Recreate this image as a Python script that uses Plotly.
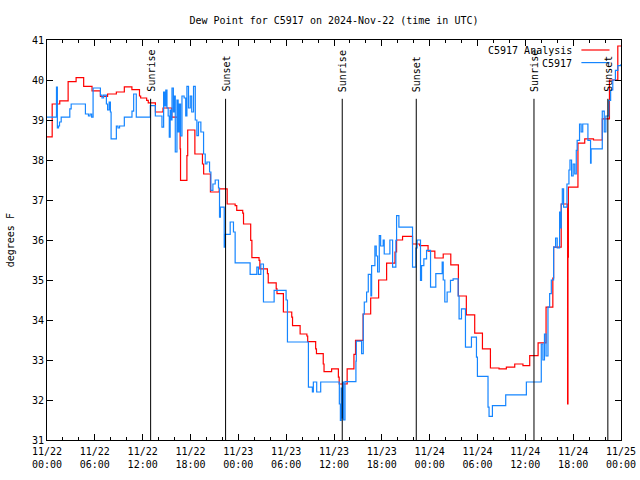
import pandas as pd
import plotly.graph_objects as go

# ---------------- data (hours since 2024-11-22 00:00 UTC, deg F) ----------------
analysis_hours = [0, 0.65, 1.6, 2.65, 3.65, 4.6, 5.65, 6.7, 7.6, 8.7, 9.7, 10.65, 11.6, 11.75,
                  12.5, 12.7, 13.6, 14.55, 15.65, 16.7, 16.75, 17.55, 17.65, 18.55, 19.5, 19.65,
                  20.5, 21.6, 22.6, 23.6, 23.8, 24.55, 24.65, 25.55, 25.7, 26.6, 26.7, 27.65,
                  27.75, 28.75, 28.85, 29.65, 30.7, 30.8, 31.75, 32.6, 32.7, 33.7, 33.8, 34.65,
                  34.75, 35.7, 36.55, 36.65, 37.65, 38.5, 38.7, 39.65, 40.6, 41.6, 42.6, 43.65,
                  43.85, 44.6, 45.85, 46.75, 47.8, 48.65, 49.7, 50.65, 51.6, 52.6, 53.65, 54.62,
                  55.62, 56.7, 57.62, 58.67, 59.7, 60.55, 61.6, 62.6, 63.45, 63.55, 64.5, 65.3,
                  65.35, 65.4, 66.6, 67.45, 68.55, 69.65, 70.55, 71.6, 72.0]
analysis_vals = [38.58, 39.40, 39.48, 39.96, 40.06, 39.84, 39.73, 39.59, 39.65, 39.70, 39.83, 39.76,
                 39.60, 39.55, 39.49, 39.43, 39.20, 39.30, 39.07, 38.28, 37.49, 38.11, 38.75, 38.15,
                 37.90, 37.65, 37.20, 37.28, 36.90, 36.86, 36.74, 36.67, 36.40, 35.99, 35.56, 35.49,
                 35.28, 35.16, 34.93, 34.78, 34.66, 34.20, 34.07, 33.86, 33.65, 33.60, 33.46, 33.28,
                 33.16, 32.90, 32.71, 32.78, 32.57, 32.40, 32.78, 33.14, 33.49, 34.15, 34.55, 35.00,
                 35.42, 35.70, 36.00, 36.09, 35.90, 35.86, 35.72, 35.55, 35.65, 35.38, 34.60, 34.13,
                 33.67, 33.28, 32.80, 32.78, 32.82, 32.90, 32.86, 33.11, 33.43, 34.32, 35.05, 35.82,
                 36.90, 31.90, 35.57, 37.32, 38.42, 38.53, 38.50, 39.03, 40.00, 40.85, 40.85]

obs_hours = [0.0, 1.19, 1.3, 1.45, 1.57, 1.78, 2.86, 3.03, 4.82, 5.2, 5.4, 5.6, 5.78, 6.7, 6.9,
             7.1, 7.45, 7.6, 7.8, 7.95, 8.04, 8.7, 8.9, 9.1, 9.7, 10.66, 10.87, 11.2, 12.96,
             13.59, 14.42, 14.63, 14.75, 14.9, 15.05, 15.2, 15.34, 15.45, 15.6, 15.68, 15.85,
             16.0, 16.09, 16.3, 16.45, 16.6, 16.75, 16.93, 17.2, 17.4, 17.55, 17.75, 17.97,
             18.15, 18.38, 18.6, 18.8, 19.0, 19.3, 19.64, 19.85, 20.06, 20.39, 20.56, 20.81,
             21.1, 21.51, 21.64, 21.75, 22.23, 22.35, 22.98, 23.39, 23.6, 25.48, 26.32, 26.52,
             26.82, 27.15, 28.49, 29.99, 30.16, 32.79, 33.29, 33.41, 33.83, 34.33, 36.67, 36.8,
             36.9, 37.0, 37.1, 37.2, 37.38, 38.75, 38.8, 39.46, 39.67, 39.8, 40.09, 40.3, 40.63,
             40.72, 41.13, 41.3, 41.47, 41.68, 41.85, 42.17, 42.3, 43.01, 43.35, 43.76, 43.85,
             44.14, 45.85, 46.27, 46.43, 46.85, 46.98, 47.27, 47.61, 48.11, 48.77, 49.57, 49.7,
             49.9, 50.19, 50.61, 50.94, 51.57, 51.69, 51.99, 52.49, 53.24, 53.87, 53.99, 55.32,
             55.45, 55.87, 57.54, 60.13, 62.0, 62.2, 62.4, 62.6, 62.84, 63.05, 63.26, 63.55,
             63.8, 64.0, 64.3, 64.4, 64.51, 64.64, 64.8, 65.22, 65.47, 65.6, 65.8, 66.0, 66.2,
             66.39, 66.5, 66.8, 67.0, 67.2, 67.85, 68.18, 68.25, 69.65, 69.9, 70.1, 70.47, 70.7,
             70.97, 71.3, 71.6, 72.0]
obs_vals = [39.07, 39.82, 38.80, 38.85, 38.95, 39.07, 39.28, 39.40, 39.15, 39.10, 39.15, 39.07,
            39.80, 39.62, 39.55, 39.62, 39.40, 39.25, 39.45, 39.20, 38.53, 38.85, 38.80, 38.85,
            39.07, 39.22, 39.65, 39.07, 39.36, 39.10, 38.82, 39.70, 39.35, 39.75, 39.30, 39.10,
            38.57, 39.25, 39.00, 39.80, 39.20, 39.60, 38.20, 39.50, 38.70, 39.40, 38.60, 39.60,
            39.55, 39.10, 39.84, 39.30, 39.60, 39.20, 39.84, 39.00, 38.61, 38.95, 38.70, 38.15,
            37.90, 37.95, 37.70, 37.24, 37.40, 37.50, 37.30, 36.57, 36.82, 35.82, 36.14, 36.45,
            36.20, 35.43, 35.14, 35.32, 35.14, 35.40, 34.45, 34.74, 34.50, 33.45, 32.32, 32.20,
            32.45, 32.20, 32.45, 31.90, 31.49, 32.30, 31.55, 32.45, 31.50, 32.46, 32.97, 33.47,
            33.16, 34.15, 34.45, 34.70, 35.14, 34.60, 35.36, 35.85, 35.60, 35.20, 36.11, 35.85,
            36.00, 35.65, 36.00, 35.32, 35.99, 36.61, 36.32, 35.32, 35.80, 36.00, 34.99, 35.36,
            35.53, 35.74, 34.82, 35.16, 35.45, 35.00, 34.45, 34.70, 34.99, 35.03, 34.60, 34.03,
            34.28, 33.32, 33.57, 33.07, 32.59, 31.82, 31.59, 31.86, 32.13, 32.45, 33.40, 33.00,
            33.65, 33.10, 34.32, 34.66, 35.00, 35.82, 36.05, 35.80, 36.70, 36.30, 36.90, 37.28,
            36.82, 37.40, 37.75, 38.00, 37.60, 37.90, 37.65, 38.24, 38.49, 38.90, 38.70, 38.90,
            38.49, 37.92, 38.28, 39.22, 38.70, 39.10, 39.49, 39.75, 40.00, 40.24, 40.36, 40.40]

sun_labels = ["Sunrise", "Sunset", "Sunrise", "Sunset", "Sunrise", "Sunset"]
sun_times = ["2024-11-22 13:00", "2024-11-22 22:24", "2024-11-23 13:02",
             "2024-11-23 22:19", "2024-11-24 13:05", "2024-11-24 22:21"]

series_names = ["C5917 Analysis", "C5917"]
series_colors = ["#ff0000", "#1585ff"]

title_text = "Dew Point for C5917 on 2024-Nov-22 (time in UTC)"
y_label = "degrees F"

# ---------------- figure ----------------
base = pd.Timestamp("2024-11-22 00:00")
t_an = base + pd.to_timedelta(analysis_hours, unit="h")
t_ob = base + pd.to_timedelta(obs_hours, unit="h")

FONT = "DejaVu Sans Mono"
fig = go.Figure()
fig.add_trace(go.Scatter(x=t_an, y=analysis_vals, mode="lines", line_shape="hv",
                         line=dict(color=series_colors[0], width=1.2), name=series_names[0]))
fig.add_trace(go.Scatter(x=t_ob, y=obs_vals, mode="lines", line_shape="hv",
                         line=dict(color=series_colors[1], width=1.2), name=series_names[1]))

for lab, t in zip(sun_labels, sun_times):
    fig.add_shape(type="line", xref="x", yref="paper", x0=t, x1=t, y0=0, y1=0.853,
                  line=dict(color="black", width=1))
    fig.add_annotation(x=t, xref="x", y=0.865, yref="paper", text=lab, textangle=-90,
                       showarrow=False, xanchor="center", yanchor="bottom",
                       font=dict(family=FONT, size=10, color="black"))

# custom gnuplot-style legend (text left, sample right)
legend_y = [0.974, 0.9425]
for name, col, ly in zip(series_names, series_colors, legend_y):
    fig.add_annotation(x=0.918, xref="paper", y=ly, yref="paper", text=name, showarrow=False,
                       xanchor="right", yanchor="middle",
                       font=dict(family=FONT, size=10, color="black"))
    fig.add_shape(type="line", xref="paper", yref="paper", x0=0.931, x1=0.980,
                  y0=ly + 0.001, y1=ly + 0.001, line=dict(color=col, width=1.2))

fig.add_annotation(x=-0.064, xref="paper", y=0.5, yref="paper", text=y_label, textangle=-90,
                   showarrow=False, xanchor="center", yanchor="middle",
                   font=dict(family=FONT, size=10, color="black"))

fig.update_layout(
    width=640, height=480,
    margin=dict(l=47, r=19, t=40, b=40, autoexpand=False),
    paper_bgcolor="white", plot_bgcolor="white",
    showlegend=False,
    font=dict(family=FONT, size=10, color="black"),
    title=dict(text=title_text, x=0.5, xref="paper", xanchor="center",
               y=1 - 20 / 480, yref="container", yanchor="middle",
               font=dict(family=FONT, size=10, color="black")),
)
fig.update_xaxes(
    type="date", range=["2024-11-22 00:00", "2024-11-25 00:00"], automargin=False,
    dtick=6 * 3600 * 1000, tick0="2024-11-22 00:00", tickformat="%m/%d<br>%H:%M",
    showgrid=False, zeroline=False, showline=True, linecolor="black", linewidth=1,
    mirror="allticks", ticks="inside", ticklen=6, tickcolor="black", ticklabelstandoff=2,
    minor=dict(dtick=2 * 3600 * 1000, ticks="inside", ticklen=3, tickcolor="black", showgrid=False),
    tickfont=dict(family=FONT, size=10, color="black"),
)
fig.update_yaxes(
    range=[31, 41], dtick=1, tick0=31, automargin=False,
    showgrid=False, zeroline=False, showline=True, linecolor="black", linewidth=1,
    mirror="allticks", ticks="inside", ticklen=6, tickcolor="black",
    tickfont=dict(family=FONT, size=10, color="black"),
)

fig.write_html("out.html", config={"displayModeBar": False},
               post_script="document.body.style.margin='0px';")
